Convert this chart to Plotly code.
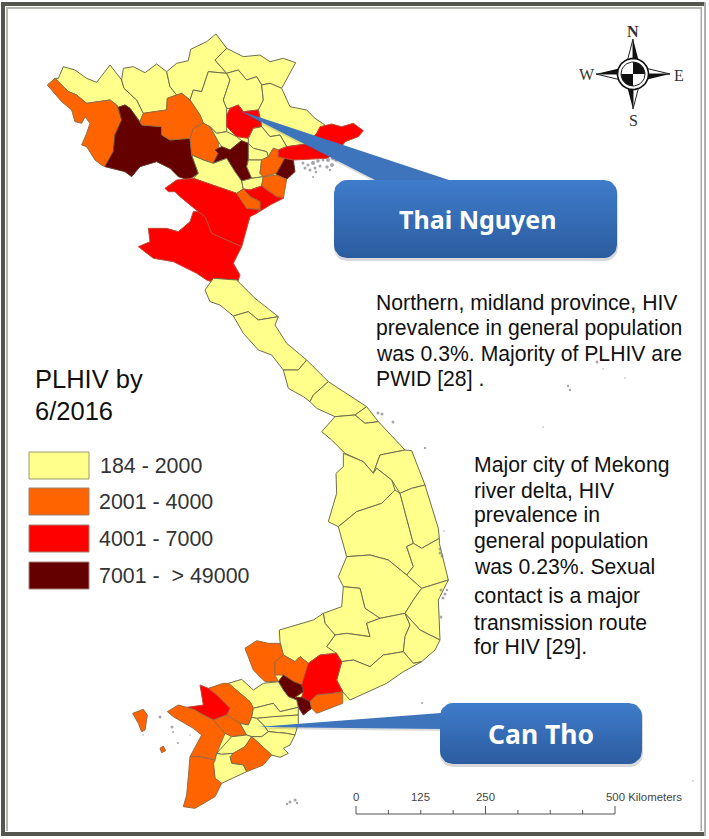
import numpy as np
import plotly.graph_objects as go

W, H = 709, 839
# ---------- data: class colours and legend ----------
CLASS_LABELS = ["184 - 2000", "2001 - 4000", "4001 - 7000", "7001 -  > 49000"]
CLASS_COLORS = ["#FFFF8C", "#FF6400", "#FF0000", "#640000"]
Y, O, R, D = 0, 1, 2, 3

# ---------- land silhouettes and province outlines ----------
NORTH_LAND = [(52,195),(75,175),(85,175),(100,140),(135,150),(170,175),(200,187),(240,135),(275,180),(280,145),(310,140),(345,158),(380,132),(410,155),(440,130),(475,122),(482,88),(530,65),(558,42),(590,85),(640,110),(690,105),(720,125),(760,115),(797,128),(780,160),(755,205),(780,260),(830,270),(855,295),(885,315),(905,312),(935,320),(970,310),(1000,332),(985,350),(945,365),(925,395),(890,415),(820,420),(790,420),(795,455),(770,478),(765,510),(760,535),(720,555),(680,580),(660,590),(635,680),(610,730),(630,765),(620,795),(570,795),(530,780),(500,760),(430,725),(370,715),(325,680),(360,665),(355,625),(410,625),(445,635),(480,605),(490,575),(505,575),(450,530),(435,515),(415,515),(405,505),(440,480),(475,480),(445,470),(420,445),(380,425),(330,440),(305,470),(285,455),(225,440),(215,435),(195,420),(170,380),(155,375),(170,340),(180,310),(165,290),(155,310),(135,305),(125,270),(95,245)]
CENTRAL_LAND = [(40,-5),(110,0),(165,55),(235,110),(225,135),(260,190),(320,240),(385,305),(500,380),(535,425),(615,510),(635,512),(675,615),(715,745),(718,790),(745,900),(715,960),(720,1080),(410,1080),(235,1080),(235,1050),(340,1020),(370,1000),(425,980),(430,920),(415,890),(440,830),(415,740),(385,725),(410,640),(408,580),(430,560),(430,520),(395,480),(365,455),(405,410),(350,385),(330,365),(310,350),(265,325),(250,270),(215,225),(175,210),(130,160),(100,108),(60,75),(30,65),(15,30)]
SOUTH_LAND = [(478,30),(580,0),(610,-20),(960,-30),(960,60),(945,90),(905,125),(850,155),(800,190),(745,215),(690,240),(668,250),(630,265),(590,280),(575,265),(550,285),(535,262),(535,310),(525,345),(510,375),(490,385),(505,400),(480,412),(455,405),(430,435),(380,455),(305,490),(285,530),(225,565),(190,560),(200,525),(205,470),(210,410),(245,345),(220,325),(175,300),(160,290),(142,275),(175,255),(200,262),(250,255),(240,195),(265,205),(310,190),(325,190),(365,178),(400,210),(430,190),(475,185),(435,185),(400,150),(375,85),(410,62),(445,70),(480,70),(490,105)]

NORTH = [
 (Y,[(85,175),(100,140),(135,150),(170,175),(200,187),(240,135),(275,180),(282,205),(320,240),(340,280),(330,305),(300,265),(285,255),(265,262),(260,255),(240,240),(170,250),(140,225),(115,215),(75,175)]),
 (Y,[(275,180),(280,145),(310,140),(345,158),(380,132),(410,155),(420,200),(440,225),(412,235),(410,270),(340,280),(320,240),(282,205)]),
 (Y,[(410,155),(440,130),(475,122),(482,88),(530,65),(558,42),(590,85),(555,120),(590,160),(535,155),(515,215),(490,210),(480,240),(455,220),(440,225),(420,200)]),
 (Y,[(555,120),(590,85),(640,110),(690,105),(720,125),(760,115),(797,128),(780,160),(755,205),(720,190),(695,195),(680,170),(650,180),(625,150),(590,160)]),
 (Y,[(535,155),(590,160),(600,180),(580,240),(590,265),(590,335),(560,340),(540,320),(520,310),(510,285),(480,240),(490,210),(515,215)]),
 (Y,[(600,180),(590,160),(625,150),(650,180),(680,170),(695,195),(700,240),(685,270),(640,275),(625,255),(600,265),(590,265),(580,240)]),
 (Y,[(695,195),(720,190),(755,205),(780,260),(830,270),(855,295),(885,315),(860,340),(830,372),(770,380),(750,345),(720,350),(695,320),(685,270),(700,240)]),
 (R,[(600,265),(625,255),(640,275),(685,270),(695,320),(670,325),(655,355),(620,350),(590,320),(590,285)]),
 (Y,[(655,355),(670,325),(695,320),(720,350),(750,345),(770,380),(745,390),(730,385),(715,410),(710,395),(670,385),(655,370)]),
 (O,[(52,195),(75,175),(115,215),(140,225),(170,250),(240,240),(260,255),(275,300),(255,345),(250,395),(225,440),(215,435),(195,420),(170,380),(155,375),(170,340),(180,310),(165,290),(155,310),(135,305),(125,270),(95,245)]),
 (D,[(265,262),(285,255),(300,265),(330,305),(335,315),(395,320),(395,345),(420,360),(480,355),(485,405),(505,460),(475,480),(445,470),(420,445),(380,425),(330,440),(305,470),(285,455),(225,440),(250,395),(255,345),(275,300)]),
 (O,[(330,305),(340,280),(410,270),(412,235),(440,225),(455,220),(480,240),(510,285),(520,310),(490,325),(480,355),(420,360),(395,345),(395,320),(335,315)]),
 (O,[(490,325),(520,310),(540,320),(565,365),(565,400),(550,430),(520,420),(485,405),(480,355)]),
 (Y,[(560,340),(590,335),(620,350),(635,362),(600,390),(575,380),(565,365),(540,320)]),
 (D,[(555,390),(575,380),(600,390),(635,362),(655,370),(655,420),(650,440),(665,475),(635,483),(615,455),(590,415),(550,430),(565,400)]),
 (Y,[(485,405),(520,420),(550,430),(590,415),(615,455),(635,483),(640,507),(620,520),(560,500),(490,475),(505,460)]),
 (Y,[(655,370),(670,385),(710,395),(715,410),(695,420),(655,420)]),
 (Y,[(655,420),(695,420),(690,460),(700,470),(665,475),(650,440)]),
 (Y,[(635,483),(665,475),(700,470),(695,498),(660,510),(640,507)]),
 (O,[(715,410),(730,385),(745,390),(745,410),(765,415),(740,460),(700,470),(690,460),(695,420)]),
 (D,[(740,460),(765,415),(790,420),(795,455),(770,478),(740,465)]),
 (R,[(745,390),(770,380),(830,372),(860,340),(870,320),(905,312),(935,320),(970,310),(1000,332),(985,350),(945,365),(925,395),(890,415),(820,420),(790,420),(765,415),(745,410)]),
 (O,[(700,470),(740,465),(770,478),(765,510),(760,535),(740,530),(710,510),(695,498)]),
 (R,[(660,510),(695,498),(710,510),(740,530),(760,535),(720,555),(680,580),(690,568),(690,545),(660,530),(640,507)]),
 (R,[(405,505),(440,480),(490,475),(560,500),(620,520),(650,565),(690,568),(680,580),(660,590),(635,680),(590,660),(545,640),(525,590),(505,575),(450,530),(435,515),(415,515)]),
 (O,[(620,520),(640,507),(660,530),(690,545),(690,568),(650,565)]),
 (R,[(325,680),(360,665),(355,625),(410,625),(445,635),(480,605),(490,575),(505,575),(525,590),(545,640),(590,660),(635,680),(610,730),(630,765),(620,795),(570,795),(530,780),(500,760),(430,725),(370,715)]),
]
CENTRAL = [
 (Y,[(15,30),(40,-5),(110,0),(165,55),(235,110),(175,120),(145,95),(100,108),(60,75),(30,65)]),
 (Y,[(100,108),(145,95),(175,120),(235,110),(225,135),(260,190),(320,240),(295,270),(250,270),(215,225),(175,210),(130,160)]),
 (Y,[(250,270),(295,270),(320,240),(385,305),(340,345),(330,365),(310,350),(265,325)]),
 (Y,[(330,365),(340,345),(385,305),(500,380),(465,405),(405,410),(350,385)]),
 (Y,[(465,405),(500,380),(535,425),(495,430)]),
 (Y,[(365,455),(405,410),(465,405),(495,430),(535,425),(615,510),(540,525),(520,580),(490,545),(435,520),(395,480)]),
 (Y,[(540,525),(615,510),(635,512),(675,615),(635,625),(600,640),(575,600),(530,565),(520,580)]),
 (Y,[(430,520),(490,545),(520,580),(530,565),(575,600),(585,630),(545,670),(470,695),(415,740),(385,725),(410,640),(408,580),(430,560)]),
 (Y,[(415,740),(470,695),(545,670),(585,630),(600,640),(640,790),(620,800),(640,860),(620,885),(565,840),(510,825),(440,830)]),
 (Y,[(600,640),(635,625),(675,615),(715,745),(718,775),(665,805),(640,790)]),
 (Y,[(640,790),(665,805),(718,775),(718,790),(745,900),(665,925),(620,885),(640,860),(620,800)]),
 (Y,[(440,830),(510,825),(565,840),(620,885),(665,925),(640,960),(615,1000),(540,1015),(495,985),(480,925),(430,920),(415,890)]),
 (Y,[(665,925),(745,900),(715,960),(720,1080),(660,1050),(615,1000),(640,960)]),
]
SOUTH = [
 (Y,[(670,-100),(720,-95),(735,-35),(780,-5),(740,10),(750,50),(680,40),(645,45),(615,10),(610,-20),(665,-40)]),
 (Y,[(780,-5),(855,-20),(870,15),(855,50),(850,95),(790,105),(750,140),(700,120),(665,125),(620,80),(645,45),(680,40),(750,50),(740,10)]),
 (Y,[(855,-20),(900,30),(960,60),(945,90),(905,125),(880,130),(850,95),(855,50),(870,15)]),
 (Y,[(665,125),(700,120),(750,140),(790,105),(850,95),(880,130),(905,125),(850,155),(800,190),(745,215),(690,240),(668,215),(650,180)]),
 (Y,[(478,30),(580,0),(610,-20),(615,10),(645,45),(620,80),(650,100),(600,105),(565,130),(540,110),(525,125),(490,105),(480,65)]),
 (O,[(375,85),(410,62),(445,70),(480,70),(490,105),(465,125),(465,165),(475,185),(435,185),(400,150)]),
 (O,[(465,125),(490,105),(525,125),(540,110),(565,130),(565,165),(545,195),(520,185),(490,165),(465,165)]),
 (R,[(565,130),(600,105),(650,100),(665,125),(650,180),(668,215),(640,220),(590,225),(570,245),(545,232),(550,215),(545,195)]),
 (D,[(475,185),(490,165),(520,185),(545,195),(550,215),(525,232),(545,232),(570,245),(575,265),(550,285),(535,262),(530,240),(505,230),(490,210)]),
 (O,[(570,245),(590,225),(640,220),(668,215),(668,250),(630,265),(590,280),(575,265)]),
 (Y,[(325,190),(365,178),(400,210),(430,190),(475,185),(490,210),(505,230),(530,240),(535,262),(480,275),(460,250),(400,265),(390,245)]),
 (O,[(265,205),(310,190),(325,190),(390,245),(400,265),(395,292),(385,315),(360,310),(320,285),(330,265),(290,225)]),
 (R,[(200,262),(250,255),(240,195),(265,205),(290,225),(330,265),(320,285),(280,300),(250,285),(225,270)]),
 (O,[(142,275),(175,255),(200,262),(225,270),(250,285),(280,300),(315,340),(290,400),(285,420),(240,410),(210,410),(245,345),(220,325),(175,300),(160,290)]),
 (O,[(280,300),(320,285),(360,310),(380,345),(335,350),(315,340)]),
 (Y,[(400,265),(460,250),(480,275),(535,262),(535,285),(460,290),(410,295),(395,292)]),
 (Y,[(410,295),(460,290),(535,285),(535,310),(525,345),(500,340),(445,335),(430,315)]),
 (Y,[(360,310),(385,315),(395,292),(410,295),(430,315),(445,335),(425,350),(395,350),(380,345)]),
 (Y,[(445,335),(500,340),(525,345),(510,375),(490,385),(505,400),(480,412),(455,405),(395,350),(425,350)]),
 (Y,[(290,400),(335,350),(380,345),(395,350),(375,380),(340,400),(305,403)]),
 (O,[(330,410),(340,400),(375,380),(395,350),(455,405),(430,435),(380,455),(370,435),(335,430)]),
 (Y,[(285,420),(290,400),(305,403),(340,400),(330,410),(335,430),(370,435),(380,455),(305,490),(285,475),(280,430)]),
 (O,[(210,410),(240,410),(285,420),(280,430),(285,475),(305,490),(285,530),(225,565),(190,560),(200,525),(205,470)]),
 (O,[(38,280),(70,268),(82,285),(75,330),(65,335),(55,310)]),
 (O,[(120,385),(130,378),(137,392),(125,398)]),
]
# tracing sheets: (left, top) of the picture region each list was read from, at 3 units per map unit
SHEETS = [(NORTH_LAND, NORTH, 30, 20), (CENTRAL_LAND, CENTRAL, 200, 280), (SOUTH_LAND, SOUTH, 120, 620)]

ISLETS_X = [597,603,625,568,570,543,425,393,378,382,444,440,442,440,441,445,443,447,441,160,172,173,178,190,143,290,295,287,297,422,693,
            303,308,313,318,323,328,333,336,332,327,320,315,310,305,316,313,330]
ISLETS_Y = [362,369,378,386,390,427,448,422,413,414,531,549,556,553,590,594,598,590,617,717,727,732,743,735,735,802,800,804,803,703,781,
            163,165,163,161,160,160,158,160,165,167,166,168,170,168,172,177,170]
ISLETS_S = [3,1.5,1.5,2.5,2.5,1.5,2.5,3,3,3,1.5,3,3,3,3,3,3,2.5,3,3,3,2,2,1.5,1.5,3,3,2.5,2.5,2,1.5,
            3,3,4,3.5,3,4,4,3,4,3.5,3,3,3,3,2.5,2,2.5]

SCALE_KM = [0, 62.5, 125, 187.5, 250, 312.5, 375, 437.5, 500]
SCALE_LABELS = {0: "0", 125: "125", 250: "250"}

LEGEND_TITLE = ["PLHIV by", "6/2016"]
LEGEND_TITLE_Y = [379, 411]
NOTE_1 = ["Northern, midland province, HIV", "prevalence in general population",
          "was 0.3%. Majority of PLHIV are", "PWID [28] ."]
NOTE_1_Y = [303, 328, 354, 379]
NOTE_2 = ["Major city of Mekong", "river delta, HIV", "prevalence in", "general population",
          "was 0.23%. Sexual", "contact is a major", "transmission route", "for HIV [29]."]
NOTE_2_Y = [465, 490, 515, 541, 566, 596, 622, 647]

fig = go.Figure()

def poly(xs, ys, fill, line=None, lw=1, **kw):
    fig.add_trace(go.Scatter(x=list(xs), y=list(ys), mode="lines", fill="toself", fillcolor=fill,
                             line=dict(color=line or fill, width=lw if line else 0),
                             hoverinfo="skip", showlegend=False, **kw))

def rounded(x0, y0, x1, y1, r):
    xs, ys = [], []
    for cx, cy, a0 in [(x1-r, y0+r, -90), (x1-r, y1-r, 0), (x0+r, y1-r, 90), (x0+r, y0+r, 180)]:
        t = np.radians(np.linspace(a0, a0+90, 8))
        xs += list(cx + r*np.cos(t)); ys += list(cy + r*np.sin(t))
    return xs + xs[:1], ys + ys[:1]

# map
for land, sheet, ox, oy in SHEETS:
    poly([ox+p[0]/3 for p in land+land[:1]], [oy+p[1]/3 for p in land+land[:1]], CLASS_COLORS[Y])
for land, sheet, ox, oy in SHEETS:
    for cls, pts in sheet:
        xs = [ox + p[0]/3 for p in pts] + [ox + pts[0][0]/3]
        ys = [oy + p[1]/3 for p in pts] + [oy + pts[0][1]/3]
        outline = "#6E6E50" if cls == Y else "#9A6A40" if cls == O else "#C04A3A" if cls == R else "#6A3A30"
        poly(xs, ys, CLASS_COLORS[cls], outline, 1)
fig.add_trace(go.Scatter(x=ISLETS_X, y=ISLETS_Y, mode="markers", hoverinfo="skip", showlegend=False,
                         marker=dict(size=ISLETS_S, color="#808088", line=dict(width=0))))

# callouts
GRAD = dict(type="vertical", colorscale=[[0, "#2B5C9F"], [1, "#3F7CCB"]])
def callout(box, wedge, label, size, dx=0):
    x0, y0, x1, y1 = box
    sx, sy = rounded(x0, y0+2, x1+1, y1+3, 13)
    poly(sx, sy, "rgba(60,60,70,0.2)")
    poly([p[0] for p in wedge]+[wedge[0][0]], [p[1]+2 for p in wedge]+[wedge[0][1]+2], "rgba(60,60,70,0.18)")
    poly([p[0] for p in wedge]+[wedge[0][0]], [p[1] for p in wedge]+[wedge[0][1]], "#3D74BC")
    bx, by = rounded(x0, y0, x1, y1, 13)
    fig.add_trace(go.Scatter(x=bx, y=by, mode="lines", fill="toself", line=dict(width=0, color="#3F7CCB"),
                             fillgradient=GRAD, hoverinfo="skip", showlegend=False))
    fig.add_annotation(x=(x0+x1)/2+dx, y=(y0+y1)/2, text=f"<b>{label}</b>", showarrow=False,
                       font=dict(family="Noto Sans", size=size, color="white"))
callout((334,180,617,258), [(240,111),(452,181),(377,181)], "Thai Nguyen", 25, 2)
callout((440,703,642,764), [(257,727),(441,713),(441,729)], "Can Tho", 26.5)

# legend
for t, y in zip(LEGEND_TITLE, LEGEND_TITLE_Y):
    fig.add_annotation(x=33, y=y, xanchor="left", yanchor="middle", text=t, showarrow=False,
                       font=dict(family="Liberation Sans", size=25.5, color="#111111"))
SW_TOP = [452, 488, 525, 562]
for lab, col, top, tx in zip(CLASS_LABELS, CLASS_COLORS, SW_TOP, [98, 97, 97, 97]):
    poly([29,89,89,29,29], [top,top,top+27,top+27,top], col, "#9A9A70" if col == CLASS_COLORS[0] else "#A08070", 1)
    fig.add_annotation(x=tx, y=top+14, xanchor="left", yanchor="middle", text=lab, showarrow=False,
                       font=dict(family="Liberation Sans", size=21.4, color="#333333"))

# notes
for lines, ys, x in [(NOTE_1, NOTE_1_Y, 374), (NOTE_2, NOTE_2_Y, 472)]:
    for t, y in zip(lines, ys):
        fig.add_annotation(x=x, y=y, xanchor="left", yanchor="middle", text=t, showarrow=False,
                           font=dict(family="Liberation Sans", size=21.2, color="#111111"))

# scale bar
KM_PX = (615-356)/500
sx = [356 + k*KM_PX for k in SCALE_KM]
fig.add_trace(go.Scatter(x=[356,615], y=[814,814], mode="lines", line=dict(color="#555555", width=1),
                         hoverinfo="skip", showlegend=False))
for k, x in zip(SCALE_KM, sx):
    top = 806 if k in (0, 250, 500) else 810
    fig.add_trace(go.Scatter(x=[x,x], y=[top,814], mode="lines", line=dict(color="#555555", width=1),
                             hoverinfo="skip", showlegend=False))
    if k in SCALE_LABELS:
        fig.add_annotation(x=x, y=797, text=SCALE_LABELS[k], showarrow=False,
                           font=dict(family="Liberation Sans", size=11.4, color="#444444"))
fig.add_annotation(x=604, y=797, xanchor="left", text="500 Kilometers", showarrow=False,
                   font=dict(family="Liberation Sans", size=11.4, color="#444444"))

# compass rose
cx, cy = 633, 74
TIP, BASE, WAIST = 35, 12, 6
blacks = [
 [(0,-TIP),(WAIST,-BASE),(0,-BASE)], [(TIP+2,0),(BASE,WAIST),(BASE,0)],
 [(0,TIP),(-WAIST,BASE),(0,BASE)], [(-TIP-2,0),(-BASE,-WAIST),(-BASE,0)],
]
whites = [
 [(0,-TIP),(-WAIST,-BASE),(0,-BASE)], [(TIP+2,0),(BASE,-WAIST),(BASE,0)],
 [(0,TIP),(WAIST,BASE),(0,BASE)], [(-TIP-2,0),(-BASE,WAIST),(-BASE,0)],
]
for tri in whites:
    poly([cx+p[0] for p in tri+tri[:1]], [cy+p[1] for p in tri+tri[:1]], "white", "#222222", 1)
for tri in blacks:
    poly([cx+p[0] for p in tri+tri[:1]], [cy+p[1] for p in tri+tri[:1]], "#111111")
t = np.radians(np.linspace(0, 360, 49))
poly(cx+15.5*np.cos(t), cy+15.5*np.sin(t), "white", "#111111", 1.6)
poly(cx+12*np.cos(t), cy+12*np.sin(t), "white", "#222222", 1)
for a0 in (-90, 90):
    a = np.radians(np.linspace(a0, a0+90, 10))
    poly([cx]+list(cx+12*np.cos(a))+[cx], [cy]+list(cy+12*np.sin(a))+[cy], "#111111")
for lab, x, y in [("N",633,31),("S",633,120),("W",587,74),("E",679,75)]:
    fig.add_annotation(x=x, y=y, text=f"<b>{lab}</b>" if lab=="N" else lab, showarrow=False,
                       font=dict(family="Liberation Serif", size=16, color="#333333"))

# frame
frame = [
 dict(x0=1,x1=5,y0=2,y1=836,fillcolor="#555550"), dict(x0=1,x1=706,y0=2,y1=6,fillcolor="#555550"),
 dict(x0=1,x1=706,y0=832,y1=836,fillcolor="#555550"),
 dict(x0=6,x1=8,y0=7,y1=831,fillcolor="#B5B5B0"), dict(x0=6,x1=702,y0=7,y1=9,fillcolor="#B5B5B0"),
 dict(x0=700.5,x1=702,y0=7,y1=831,fillcolor="#A8A8A8"), dict(x0=704,x1=706,y0=2,y1=836,fillcolor="#B0B0B0"),
]
for f in frame:
    fig.add_shape(type="rect", layer="above", line_width=0, **f)

fig.update_layout(width=W, height=H, margin=dict(l=0,r=0,t=0,b=0), paper_bgcolor="white", plot_bgcolor="white",
                  xaxis=dict(range=[0,W], visible=False, fixedrange=True),
                  yaxis=dict(range=[H,0], visible=False, fixedrange=True), showlegend=False)
fig.write_html("out.html", config={"displayModeBar": False},
               post_script="document.body.style.margin='0';document.body.style.overflow='hidden';")
